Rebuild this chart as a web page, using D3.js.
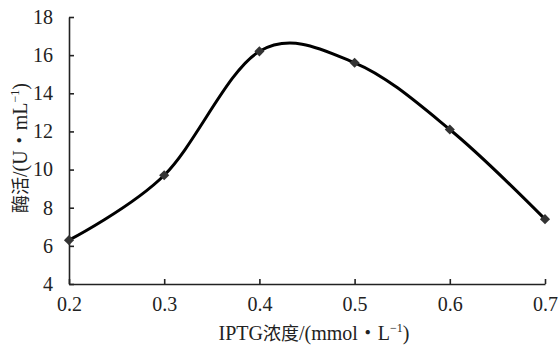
<!DOCTYPE html>
<html>
<head>
<meta charset="utf-8">
<script src="https://cdn.jsdelivr.net/npm/d3@7"></script>
<style>
  body { margin: 0; background: #fff; }
  svg text { font-family: "Liberation Serif", "Noto Sans CJK SC", serif; fill: #222; }
</style>
</head>
<body>
<svg id="chart" width="559" height="352"></svg>
<script>
// IPTG concentration (mmol/L) vs enzyme activity (U/mL)
const iptg = [0.2, 0.3, 0.4, 0.5, 0.6, 0.7];
const activity = [6.3, 9.7, 16.2, 15.6, 12.1, 7.4];
const xTicks = [0.2, 0.3, 0.4, 0.5, 0.6, 0.7];
const yTicks = [4, 6, 8, 10, 12, 14, 16, 18];

const svg = d3.select("#chart");
const size = { w: 559, h: 352 };
const margins = { left: 69, right: 14, top: 17, bottom: 68 };

const x = d3.scaleLinear()
	.domain([0.2, 0.7])
	.range([margins.left, size.w - margins.right]);

const y = d3.scaleLinear()
	.domain([4, 18])
	.range([size.h - margins.bottom, margins.top]);

let xAxis = svg.append("g")
	.attr("transform", `translate(0, ${y(4)})`)
	.call(d3.axisBottom(x)
		.tickValues(xTicks)
		.tickFormat(d3.format(".1f"))
		.tickSizeInner(-5)
		.tickSizeOuter(0)
		.tickPadding(13));

let yAxis = svg.append("g")
	.attr("transform", `translate(${x(0.2)}, 0)`)
	.call(d3.axisLeft(y)
		.tickValues(yTicks)
		.tickSizeInner(-5)
		.tickSizeOuter(0)
		.tickPadding(16));

svg.selectAll(".domain, .tick line")
	.attr("stroke", "#222")
	.attr("stroke-width", 1.6);
svg.selectAll(".tick text")
	.attr("font-size", 20)
	.attr("font-family", "Liberation Serif")
	.attr("fill", "#222");

// smoothed line, like the spreadsheet's smoothed series
let points = iptg.map((v, i) => [v, activity[i]]);
let line = d3.line()
	.x((d) => x(d[0]))
	.y((d) => y(d[1]))
	.curve(d3.curveCardinal.tension(0));

svg.append("path")
	.datum(points)
	.attr("d", line)
	.attr("fill", "none")
	.attr("stroke", "#000")
	.attr("stroke-width", 3);

svg.append("g")
	.selectAll("path")
	.data(points)
	.join("path")
	.attr("d", d3.symbol().type(d3.symbolDiamond2).size(65))
	.attr("transform", (d) => `translate(${x(d[0])}, ${y(d[1])})`)
	.attr("fill", "#333");

// axis titles
let xTitle = svg.append("text")
	.attr("x", 314)
	.attr("y", 340)
	.attr("text-anchor", "middle")
	.attr("font-size", 20);
xTitle.append("tspan").text("IPTG");
xTitle.append("tspan").attr("font-family", "Noto Sans CJK SC").attr("font-size", 18).text("浓度");
xTitle.append("tspan").text("/(mmol・L");
xTitle.append("tspan").attr("font-size", 12).attr("dy", -8).text("−1");
xTitle.append("tspan").attr("dy", 8).text(")");

let yTitle = svg.append("text")
	.attr("transform", "translate(27, 148) rotate(-90)")
	.attr("text-anchor", "middle")
	.attr("font-size", 20);
yTitle.append("tspan").attr("font-family", "Noto Sans CJK SC").attr("font-size", 18).text("酶活");
yTitle.append("tspan").text("/(U・mL");
yTitle.append("tspan").attr("font-size", 12).attr("dy", -8).text("−1");
yTitle.append("tspan").attr("dy", 8).text(")");
</script>
</body>
</html>
